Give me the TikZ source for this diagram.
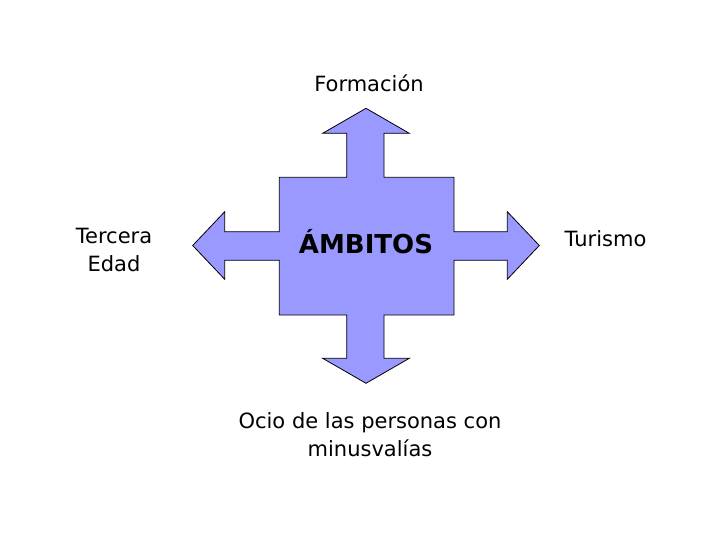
\documentclass[tikz,border=0pt]{standalone}
\usepackage{fontspec}
\setmainfont{DejaVu Sans}
\usetikzlibrary{positioning,calc}
\definecolor{lila}{HTML}{9999FF}
\tikzset{
  lbl/.style={font=\fontsize{21}{28}\selectfont, anchor=base, align=center, inner sep=0pt},
  cruz/.style={draw=black, fill=lila, line width=0.8pt, line join=miter}
}
\newcommand{\lnode}[3]{\node [lbl] (#1) at (#2) {#3}}

\begin{document}
\begin{tikzpicture}[x=1pt,y=-1pt]
\useasboundingbox (0,0) rectangle (720,540);

% cross with four arrow heads
\draw[cruz] (366,108.3) -- (409.3,133.3) -- (384,133.3) -- (384,177.3)
  -- (454,177.3) -- (454,231.7) -- (507.3,231.7) -- (507.3,211.7)
  -- (539.3,245.5) -- (507.3,279.3) -- (507.3,260.3) -- (454,260.3)
  -- (454,315) -- (384,315) -- (384,358.3) -- (409.3,358.3)
  -- (366,383.3) -- (322.7,358.3) -- (346.7,358.3) -- (346.7,315)
  -- (279.3,315) -- (279.3,260.3) -- (224.7,260.3) -- (224.7,279.3)
  -- (192.7,245.5) -- (224.7,211.7) -- (224.7,231.7) -- (279.3,231.7)
  -- (279.3,177.3) -- (346.7,177.3) -- (346.7,133.3) -- (322.7,133.3) -- cycle;

\node [lbl, font=\bfseries\fontsize{26}{30}\selectfont] (AMB) at (366,253.3) {ÁMBITOS};

% labels, base = last line
\lnode{FOR}{369,91.7}{Formación};
\lnode{TER}{114,271.7}{Tercera\\Edad};
\lnode{TUR}{605.5,246.7}{Turismo};
\lnode{OCIO}{370,456}{Ocio de las personas con\\minusvalías};

\end{tikzpicture}
\end{document}
